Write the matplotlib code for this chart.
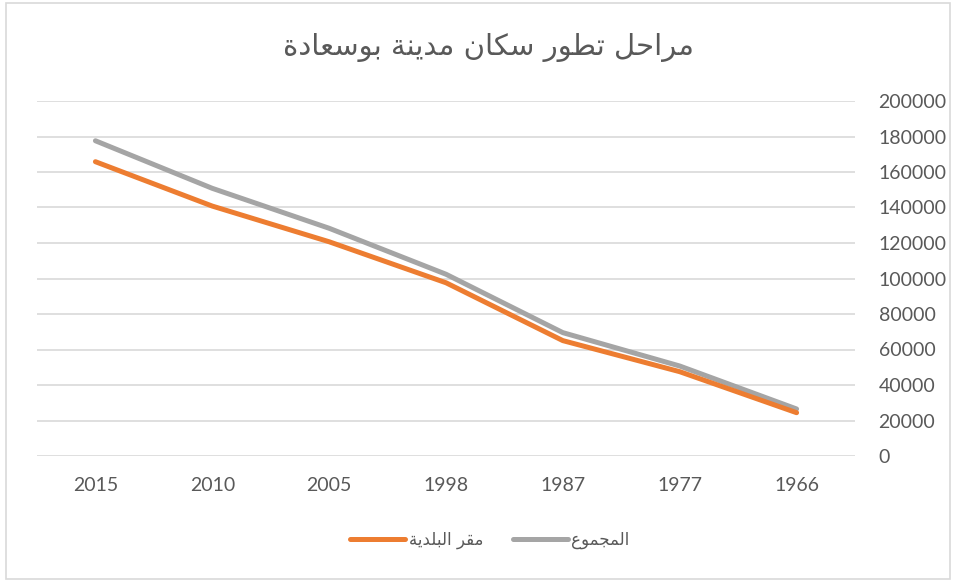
import matplotlib
matplotlib.use('Agg')
import matplotlib.pyplot as plt
from matplotlib.patches import Rectangle

plt.rcParams['font.family'] = ['Lato', 'DejaVu Sans']
plt.rcParams['axes.unicode_minus'] = False

# census years (left to right) and population counts
years = ['2015', '2010', '2005', '1998', '1987', '1977', '1966']
chef_lieu = [165800, 140800, 120700, 97600, 65000, 47500, 24400]
total = [177600, 150800, 128300, 102400, 69500, 50700, 26500]

title_txt = 'مراحل تطور سكان مدينة بوسعادة'
label_chef = 'مقر البلدية'
label_total = 'المجموع'

# Arabic contextual forms: (isolated, final, initial, medial); two-form letters don't join forward
FORMS = {
    'ا': (0xFE8D, 0xFE8E, None, None),
    'ب': (0xFE8F, 0xFE90, 0xFE91, 0xFE92),
    'ة': (0xFE93, 0xFE94, None, None),
    'ت': (0xFE95, 0xFE96, 0xFE97, 0xFE98),
    'ج': (0xFE9D, 0xFE9E, 0xFE9F, 0xFEA0),
    'ح': (0xFEA1, 0xFEA2, 0xFEA3, 0xFEA4),
    'د': (0xFEA9, 0xFEAA, None, None),
    'ر': (0xFEAD, 0xFEAE, None, None),
    'س': (0xFEB1, 0xFEB2, 0xFEB3, 0xFEB4),
    'ط': (0xFEC1, 0xFEC2, 0xFEC3, 0xFEC4),
    'ع': (0xFEC9, 0xFECA, 0xFECB, 0xFECC),
    'ق': (0xFED5, 0xFED6, 0xFED7, 0xFED8),
    'ك': (0xFED9, 0xFEDA, 0xFEDB, 0xFEDC),
    'ل': (0xFEDD, 0xFEDE, 0xFEDF, 0xFEE0),
    'م': (0xFEE1, 0xFEE2, 0xFEE3, 0xFEE4),
    'ن': (0xFEE5, 0xFEE6, 0xFEE7, 0xFEE8),
    'و': (0xFEED, 0xFEEE, None, None),
    'ي': (0xFEF1, 0xFEF2, 0xFEF3, 0xFEF4),
}


def shape(text):
    out = []
    for i, ch in enumerate(text):
        if ch not in FORMS:
            out.append(ch)
            continue
        prev = text[i - 1] if i > 0 else ''
        nxt = text[i + 1] if i + 1 < len(text) else ''
        joins_prev = prev in FORMS and FORMS[prev][2] is not None
        dual = FORMS[ch][2] is not None
        joins_next = dual and nxt in FORMS
        iso, fin, ini, med = FORMS[ch]
        if joins_prev and joins_next:
            code = med
        elif joins_prev:
            code = fin
        elif joins_next:
            code = ini
        else:
            code = iso
        out.append(chr(code))
    return ''.join(out)[::-1]


txt_color = '#595959'
fig = plt.figure(figsize=(9.57, 5.81), dpi=100)
fig.patches.append(Rectangle((6 / 957, 2 / 581), 944 / 957, 576 / 581, transform=fig.transFigure,
                             fill=False, edgecolor='#D9D9D9', linewidth=1.2))

ax = fig.add_axes([37 / 957, 1 - 456 / 581, 818 / 957, 355 / 581])
x = range(len(years))
ax.plot(x, total, color='#A5A5A5', linewidth=3.6, solid_capstyle='round', label=shape(label_total), zorder=3)
ax.plot(x, chef_lieu, color='#ED7D31', linewidth=3.6, solid_capstyle='round', label=shape(label_chef), zorder=4)

ax.set_xlim(-0.5, len(years) - 0.5)
ax.set_ylim(0, 200000)
ax.set_yticks(range(0, 200001, 20000))
ax.set_xticks(list(x))
ax.set_xticklabels(years)
ax.yaxis.tick_right()
ax.tick_params(axis='both', length=0, labelsize=14, labelcolor=txt_color)
ax.tick_params(axis='y', pad=17)
ax.tick_params(axis='x', pad=15)
for lab in ax.get_yticklabels():
    lab.set_horizontalalignment('left')
ax.grid(axis='y', color='#D9D9D9', linewidth=1.2)
ax.set_axisbelow(True)
for s in ax.spines.values():
    s.set_visible(False)

fig.text(488 / 957, 1 - 48 / 581, shape(title_txt), ha='center', va='center', fontsize=21,
         color=txt_color, family='DejaVu Sans')

handles, labels = ax.get_legend_handles_labels()
leg = fig.legend(handles[::-1], labels[::-1], loc='center', bbox_to_anchor=(490 / 957, 1 - 540 / 581),
                 ncol=2, frameon=False, handlelength=3.3, handletextpad=0.2, columnspacing=1.8,
                 prop={'family': 'DejaVu Sans', 'size': 12})
for t in leg.get_texts():
    t.set_color(txt_color)

fig.savefig('out.png', dpi=100, facecolor='white')
